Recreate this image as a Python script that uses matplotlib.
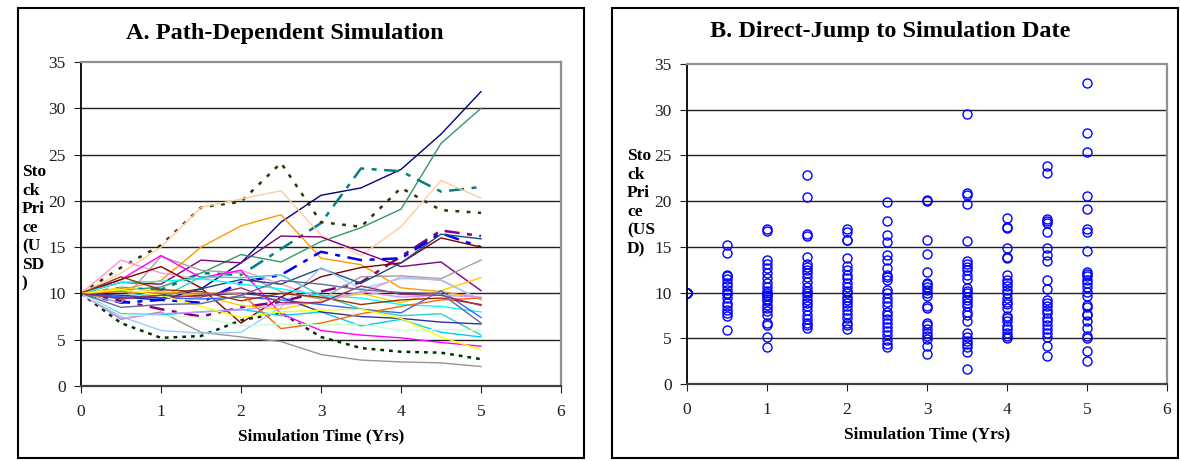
import numpy as np
import matplotlib.pyplot as plt
from matplotlib.patches import Rectangle

plt.rcParams['font.family'] = ['Liberation Serif', 'DejaVu Serif']

# simulation times (yrs)
times = [0, 0.5, 1, 1.5, 2, 2.5, 3, 3.5, 4, 4.5, 5]

# panel A: simulated paths (colour, style, width, values)
paths = [
    ('#000080', '-', 1.0, [10, 9.6, 9.3, 10.5, 13.3, 17.7, 20.6, 21.4, 23.4, 27.2, 31.8]),
    ('#339966', '-', 1.0, [10, 10.3, 10.7, 12.2, 14.2, 13.4, 15.6, 17.1, 19.1, 26.2, 30.0]),
    ('#008080', (0, (6, 3, 2, 3)), 1.8, [10, 10.6, 10.4, 12.2, 12.0, 14.8, 17.6, 23.5, 23.2, 21.0, 21.5]),
    ('#333300', (0, (1.5, 3)), 1.8, [10, 12.8, 15.2, 19.3, 19.9, 24.1, 17.7, 17.2, 21.4, 19.0, 18.7]),
    ('#FFCC99', '-', 1.0, [10, 12.2, 15.0, 19.3, 20.2, 21.1, 16.3, 14.1, 17.2, 22.2, 20.3]),
    ('#FF9900', '-', 1.0, [10, 10.4, 11.4, 15.0, 17.3, 18.5, 13.8, 13.1, 10.6, 10.2, 9.5]),
    ('#800080', '-', 1.0, [10, 11.2, 11.0, 13.6, 13.3, 16.2, 16.1, 14.5, 12.9, 13.4, 10.3]),
    ('#800080', (0, (6, 3, 2, 3)), 1.8, [10, 9.2, 8.3, 7.5, 8.5, 9.1, 10.2, 11.2, 14.0, 16.8, 16.2]),
    ('#0000FF', (0, (6, 3, 2, 3)), 1.8, [10, 9.0, 9.3, 9.0, 11.2, 12.0, 14.5, 13.6, 13.8, 16.5, 15.0]),
    ('#003300', (0, (1.5, 2)), 1.8, [10, 6.8, 5.2, 5.4, 7.1, 7.9, 5.3, 4.1, 3.7, 3.6, 2.9]),
    ('#969696', '-', 1.0, [10, 7.2, 8.0, 5.8, 5.3, 4.8, 3.4, 2.8, 2.6, 2.5, 2.1]),
    ('#A0A0A0', '-', 1.0, [10, 9.0, 14.0, 12.5, 12.2, 10.2, 9.4, 11.8, 11.9, 11.6, 13.6]),
    ('#FF99CC', '-', 1.0, [10, 13.6, 12.2, 11.5, 12.5, 11.0, 9.5, 10.0, 11.8, 11.4, 9.3]),
    ('#FF00FF', '-', 1.0, [10, 11.5, 14.1, 11.7, 12.5, 7.8, 6.0, 5.5, 5.2, 4.7, 4.3]),
    ('#800000', '-', 1.0, [10, 11.5, 12.9, 10.6, 6.8, 9.6, 11.8, 12.8, 13.3, 16.0, 15.0]),
    ('#1F497D', '-', 1.0, [10, 9.5, 9.8, 10.5, 11.5, 11.0, 12.7, 11.1, 13.3, 16.4, 15.9]),
    ('#99CCFF', '-', 1.0, [10, 7.5, 6.0, 5.7, 5.8, 8.5, 12.8, 10.5, 11.6, 11.5, 9.3]),
    ('#00CCFF', '-', 1.0, [10, 7.8, 7.7, 8.0, 8.3, 7.6, 8.0, 6.5, 7.2, 5.8, 5.3]),
    ('#00FFFF', '-', 1.0, [10, 11.2, 11.3, 11.6, 11.0, 10.5, 9.8, 9.5, 8.8, 8.6, 8.0]),
    ('#33CCCC', '-', 1.0, [10, 10.2, 9.5, 11.8, 11.7, 12.0, 9.8, 8.3, 7.6, 7.8, 5.5]),
    ('#FFCC00', '-', 1.0, [10, 10.6, 10.2, 9.8, 8.7, 8.3, 9.2, 10.0, 9.0, 10.3, 11.7]),
    ('#3366FF', '-', 1.0, [10, 9.6, 9.5, 9.4, 9.6, 9.3, 8.8, 8.3, 7.9, 10.3, 7.4]),
    ('#333399', '-', 1.0, [10, 9.8, 9.5, 9.8, 10.0, 9.6, 8.0, 7.5, 7.3, 6.9, 6.7]),
    ('#993300', '-', 1.0, [10, 11.8, 10.4, 10.2, 9.2, 10.0, 9.6, 8.8, 9.3, 9.5, 8.8]),
    ('#FF6600', '-', 1.0, [10, 10.2, 10.0, 10.0, 10.0, 6.2, 6.8, 7.8, 8.6, 9.3, 9.5]),
    ('#CC99FF', '-', 1.0, [10, 7.3, 7.8, 8.0, 8.2, 8.8, 9.1, 10.2, 9.6, 9.8, 9.6]),
    ('#CCFFCC', '-', 1.0, [10, 7.7, 7.6, 7.4, 6.5, 6.7, 6.6, 6.7, 6.0, 6.1, 6.0]),
    ('#FFFF00', '-', 1.0, [10, 10.4, 9.8, 8.6, 7.4, 8.0, 8.2, 8.3, 7.3, 5.3, 3.9]),
    ('#993366', '-', 1.0, [10, 9.4, 9.8, 9.6, 10.6, 9.0, 9.0, 10.8, 9.9, 9.8, 8.7]),
    ('#666699', '-', 1.0, [10, 8.5, 8.8, 8.9, 9.8, 11.4, 11.0, 10.4, 10.1, 10.0, 6.8]),
]

# panel B: direct-jump samples at each simulation date
jump_t0 = [10, 10, 10, 10, 10, 10]
jump_t05 = [15.15, 14.3, 11.9, 11.8, 11.5, 11.1, 10.7, 10.3, 10.0, 9.8, 9.4, 8.85, 8.5, 8.1, 7.8, 7.4, 5.9]
jump_t1 = [17.0, 16.75, 13.6, 13.15, 12.7, 12.1, 11.6, 11.1, 10.6, 10.2, 10.0, 9.76, 9.58, 9.29, 9.03,
           8.67, 8.3, 7.94, 7.57, 6.66, 6.48, 5.1, 4.1]
jump_t15 = [22.9, 20.4, 16.4, 16.2, 13.9, 13.15, 12.85, 12.5, 12.1, 11.7, 11.2, 10.6, 10.2, 9.9, 9.6,
            9.2, 8.85, 8.5, 8.05, 7.6, 7.1, 6.7, 6.4, 6.1]
jump_t2 = [17.0, 16.6, 15.8, 15.7, 13.8, 12.9, 12.5, 11.9, 11.6, 11.0, 10.6, 10.2, 9.9, 9.5, 9.2,
           8.85, 8.5, 8.1, 7.7, 7.2, 6.7, 6.4, 6.0]
jump_t25 = [19.9, 17.8, 16.3, 15.55, 14.1, 13.6, 12.7, 11.9, 11.7, 11.4, 10.3, 9.9, 9.4, 9.0, 8.5,
            7.9, 7.5, 7.1, 6.7, 6.2, 5.75, 5.4, 4.85, 4.4, 4.0]
jump_t3 = [20.1, 20.0, 15.8, 14.2, 12.2, 11.0, 10.9, 10.6, 10.3, 9.9, 9.65, 8.5, 8.3, 6.7, 6.4,
           6.0, 5.6, 5.3, 4.9, 4.2, 3.3]
jump_t35 = [29.5, 20.9, 20.7, 19.7, 15.6, 13.4, 13.15, 12.85, 12.5, 11.9, 11.5, 10.5, 10.2, 9.9, 9.5,
            9.2, 8.85, 8.5, 7.9, 7.5, 6.9, 5.6, 5.1, 4.75, 4.4, 4.0, 3.5, 1.6]
jump_t4 = [18.2, 17.2, 17.1, 14.9, 13.9, 13.8, 11.9, 11.4, 11.1, 10.7, 10.3, 9.9, 9.4, 9.0, 8.7,
           8.3, 7.4, 7.2, 6.85, 6.3, 6.0, 5.6, 5.2, 5.0]
jump_t45 = [23.85, 23.1, 18.1, 17.8, 17.6, 16.6, 14.9, 14.1, 13.4, 11.4, 10.4, 9.2, 8.85, 8.5, 8.1,
            7.8, 7.2, 6.85, 6.4, 6.0, 5.6, 5.1, 4.2, 3.1]
jump_t5 = [32.9, 27.4, 25.4, 20.6, 19.1, 17.0, 16.6, 14.5, 12.3, 12.05, 11.8, 11.4, 11.0, 10.6, 10.1,
           9.65, 8.6, 8.4, 7.7, 7.5, 6.85, 6.1, 5.2, 5.0, 3.6, 2.55]
jumps = [jump_t0, jump_t05, jump_t1, jump_t15, jump_t2, jump_t25, jump_t3, jump_t35,
         jump_t4, jump_t45, jump_t5]

fig = plt.figure(figsize=(11.8, 4.61), dpi=100)
W, H = 1180.0, 461.0

# panel frames
fig.patches.append(Rectangle((18 / W, 3 / H), 566 / W, 450 / H, transform=fig.transFigure,
                             fill=False, edgecolor='black', linewidth=1.5))
fig.patches.append(Rectangle((612 / W, 3 / H), 566 / W, 450 / H, transform=fig.transFigure,
                             fill=False, edgecolor='black', linewidth=1.5))


def style_axes(ax):
    ax.set_xlim(0, 6)
    ax.set_ylim(0, 35)
    ax.set_xticks(range(0, 7))
    ax.set_yticks(range(0, 36, 5))
    for y in range(5, 35, 5):
        ax.axhline(y, color='#202020', linewidth=1.0, zorder=0)
    ax.spines['top'].set_color('#909090')
    ax.spines['right'].set_color('#909090')
    ax.spines['top'].set_linewidth(1.6)
    ax.spines['right'].set_linewidth(1.6)
    ax.spines['left'].set_color('black')
    ax.spines['bottom'].set_color('#404040')
    ax.spines['left'].set_linewidth(1.3)
    ax.spines['bottom'].set_linewidth(1.6)
    ax.tick_params(axis='both', direction='out', length=5, labelsize=12.5,
                   colors='#202020')
    ax.tick_params(axis='x', pad=8)
    ax.tick_params(axis='y', pad=6)
    ax.set_xlabel('Simulation Time (Yrs)', fontsize=12.5, fontweight='bold', labelpad=6)


# A. path-dependent
axA = fig.add_axes([81 / W, 75 / H, 480 / W, 324 / H])
style_axes(axA)
for color, ls, lw, vals in paths:
    axA.plot(times, vals, color=color, linestyle=ls, linewidth=lw)
fig.text(285 / W, 1 - 33 / H, 'A. Path-Dependent Simulation', ha='center', va='center',
         fontsize=17.5, fontweight='bold')
fig.text(22 / W, 1 - 164 / H, 'Sto\nck\nPri\nce\n(U\nSD\n)', ha='left', va='top',
         fontsize=12.5, fontweight='bold', linespacing=1.22)

# B. direct-jump
axB = fig.add_axes([687 / W, 77 / H, 480 / W, 320 / H])
style_axes(axB)
for t, vals in zip(times, jumps):
    axB.plot([t] * len(vals), vals, linestyle='none', marker='o', markersize=6.5,
             markerfacecolor='none', markeredgecolor='#0000FF', markeredgewidth=1.0)
fig.text(890 / W, 1 - 31 / H, 'B. Direct-Jump to Simulation Date', ha='center', va='center',
         fontsize=17.5, fontweight='bold')
fig.text(627 / W, 1 - 148 / H, 'Sto\nck\nPri\nce\n(US\nD)', ha='left', va='top',
         fontsize=12.5, fontweight='bold', linespacing=1.22)

fig.savefig('out.png', dpi=100)
